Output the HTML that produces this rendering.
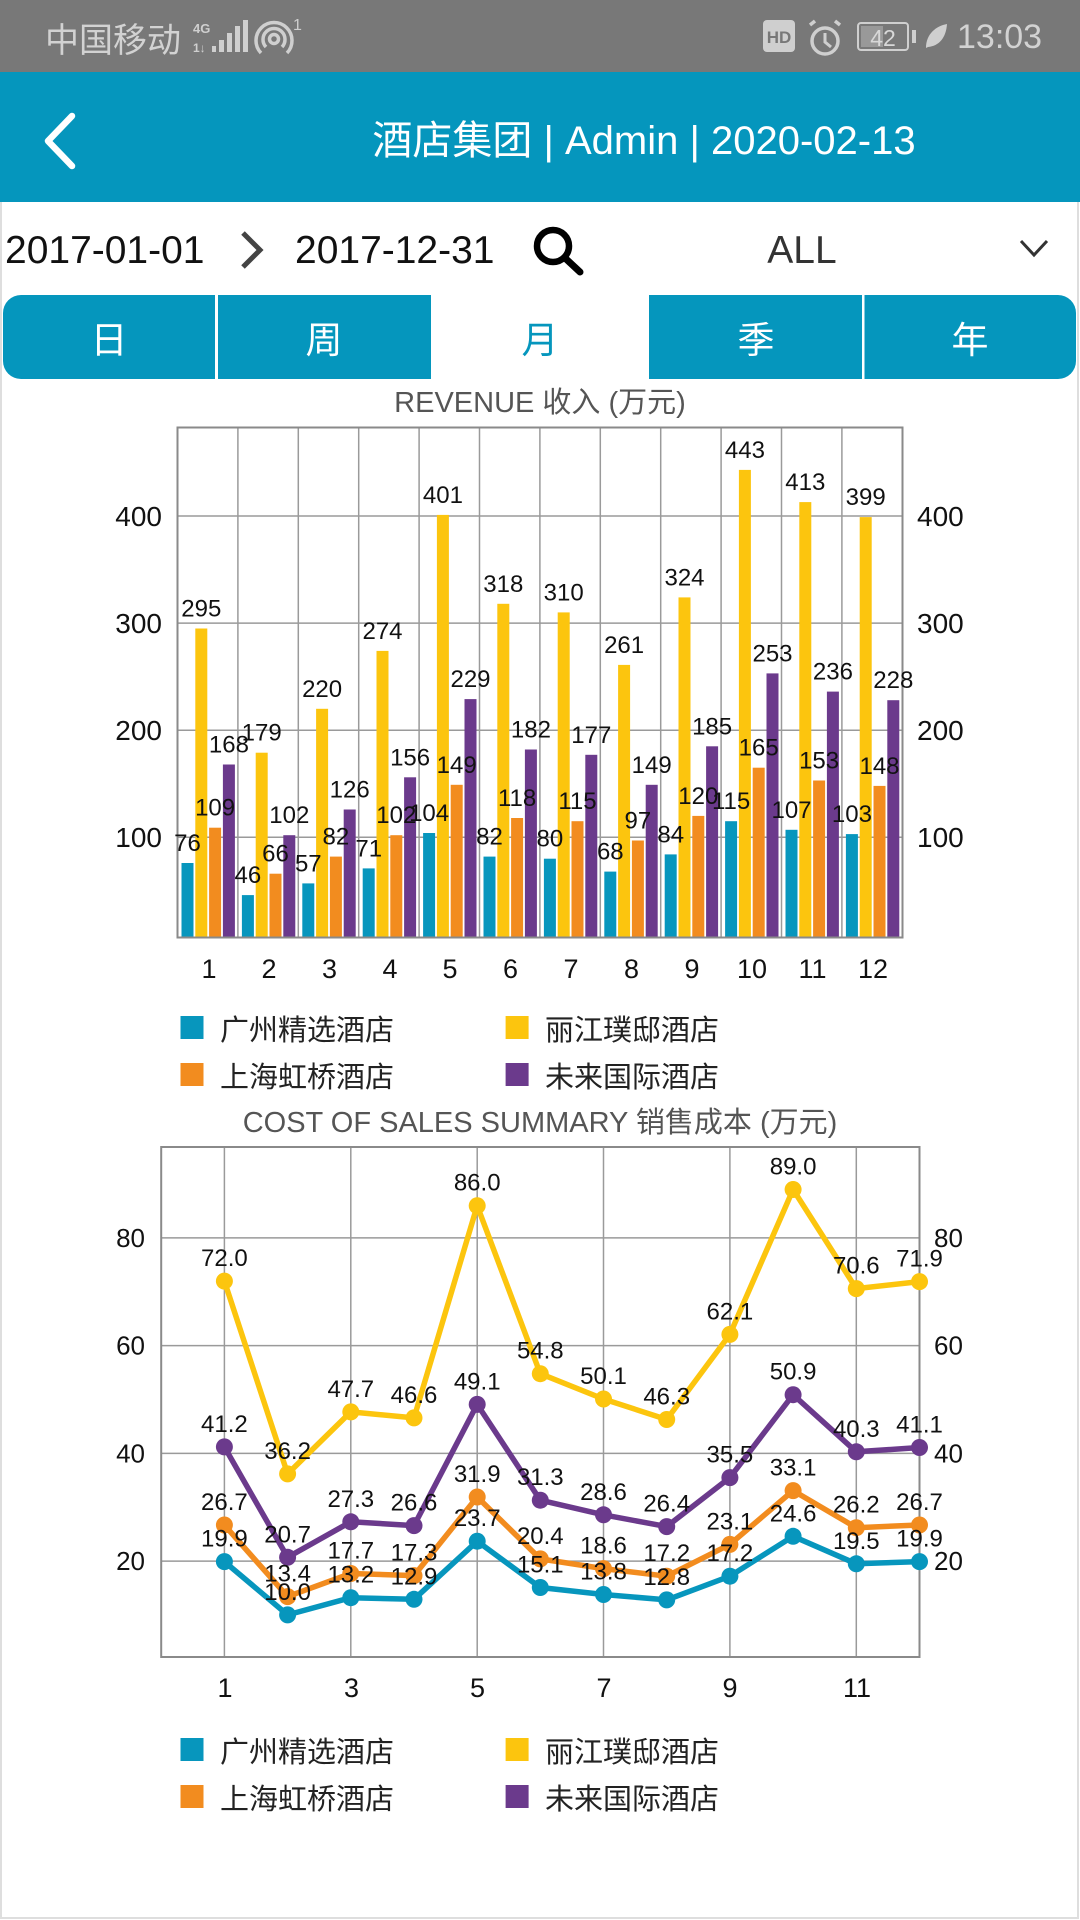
<!DOCTYPE html>
<html><head><meta charset="utf-8"><style>
html,body{margin:0;padding:0;background:#fff;}
body{width:1080px;height:1920px;overflow:hidden;position:relative;}
svg{position:absolute;left:0;top:0;display:block;}
text{font-family:"Liberation Sans","Noto Sans CJK SC",sans-serif;}
</style></head><body>
<svg width="1080" height="1920" viewBox="0 0 1080 1920" xmlns="http://www.w3.org/2000/svg">
<rect x="0" y="0" width="1080" height="1920" fill="#fff"/>
<rect x="1" y="200" width="1077" height="1718" fill="none" stroke="#dedede" stroke-width="2"/>
<!-- status bar -->
<rect x="0" y="0" width="1080" height="72" fill="#787878"/>
<text x="45" y="52" font-size="34" fill="#d2d2d2">中国移动</text>
<text x="193" y="33" font-size="13" font-weight="bold" fill="#cfcfcf">4G</text>
<text x="193" y="52" font-size="12" font-weight="bold" fill="#cfcfcf">1↓</text>
<rect x="212" y="46" width="4" height="6" fill="#cfcfcf"/>
<rect x="219" y="40" width="5" height="12" fill="#cfcfcf"/>
<rect x="227" y="33" width="5" height="19" fill="#cfcfcf"/>
<rect x="235" y="26" width="5" height="26" fill="#cfcfcf"/>
<rect x="243" y="20" width="5" height="32" fill="#cfcfcf"/>
<circle cx="274" cy="39" r="4.5" fill="none" stroke="#cfcfcf" stroke-width="3.5"/>
<path d="M266 47 A11 11 0 1 1 282 47" fill="none" stroke="#cfcfcf" stroke-width="3.5"/>
<path d="M261 53 A18 18 0 1 1 287 53" fill="none" stroke="#cfcfcf" stroke-width="3.5"/>
<text x="293" y="30" font-size="16" fill="#cfcfcf">1</text>
<rect x="763" y="20" width="32" height="32" rx="4" fill="#cfcfcf"/>
<text x="779" y="43" font-size="17" font-weight="bold" fill="#787878" text-anchor="middle">HD</text>
<circle cx="825" cy="41" r="13" fill="none" stroke="#cfcfcf" stroke-width="3.5"/>
<polyline points="825,33 825,42 831,47" fill="none" stroke="#cfcfcf" stroke-width="3"/>
<line x1="810" y1="25" x2="815" y2="21" stroke="#cfcfcf" stroke-width="3.5"/>
<line x1="840" y1="25" x2="835" y2="21" stroke="#cfcfcf" stroke-width="3.5"/>
<rect x="858" y="23" width="50" height="27" rx="3" fill="none" stroke="#cfcfcf" stroke-width="2"/>
<rect x="861" y="26" width="22" height="21" fill="#999"/>
<text x="883" y="46" font-size="23" fill="#d8d8d8" text-anchor="middle">42</text>
<rect x="912" y="30" width="4" height="13" fill="#cfcfcf"/>
<path d="M926 48 C926 34 936 26 947 24 C946 38 939 46 928 47 Z" fill="#cfcfcf"/>
<text x="957" y="48" font-size="34" fill="#d2d2d2">13:03</text>
<!-- header -->
<rect x="0" y="72" width="1080" height="130" fill="#0596bd"/>
<polyline points="72,116 48,141 72,166" fill="none" stroke="#fff" stroke-width="6.5" stroke-linecap="round" stroke-linejoin="round"/>
<text x="644" y="154" font-size="40" fill="#fff" text-anchor="middle">酒店集团 | Admin | 2020-02-13</text>
<!-- date row -->
<text x="5" y="263" font-size="39" fill="#111">2017-01-01</text>
<polyline points="243,233 260,250 243,267" fill="none" stroke="#444" stroke-width="5"/>
<text x="295" y="263" font-size="39" fill="#111">2017-12-31</text>
<circle cx="553" cy="246" r="16" fill="none" stroke="#000" stroke-width="6.5"/>
<line x1="565" y1="258" x2="580" y2="272" stroke="#000" stroke-width="7" stroke-linecap="round"/>
<text x="802" y="263" font-size="39" fill="#333" text-anchor="middle">ALL</text>
<polyline points="1021,241 1034,255 1047,241" fill="none" stroke="#333" stroke-width="3"/>
<!-- tabs -->
<rect x="3" y="295" width="1073" height="84" rx="18" fill="#0596bd"/>
<rect x="215" y="295" width="3" height="84" fill="#fff"/>
<rect x="431" y="295" width="218" height="84" fill="#fff"/>
<rect x="862" y="295" width="2.5" height="84" fill="#fff"/>
<g font-size="37" text-anchor="middle" fill="#fff">
<text x="109" y="353">日</text>
<text x="324" y="353">周</text>
<text x="540" y="353" fill="#0596bd">月</text>
<text x="756" y="353">季</text>
<text x="970" y="353">年</text>
</g>
<!-- REVENUE chart -->
<text x="540" y="412" font-size="29" fill="#555" text-anchor="middle">REVENUE 收入 (万元)</text>
<g stroke="#9a9a9a" stroke-width="1.5">
<line x1="177.5" y1="516" x2="902.5" y2="516"/>
<line x1="177.5" y1="623.1" x2="902.5" y2="623.1"/>
<line x1="177.5" y1="730.2" x2="902.5" y2="730.2"/>
<line x1="177.5" y1="837.3" x2="902.5" y2="837.3"/>
<line x1="237.9" y1="427.5" x2="237.9" y2="937.5"/>
<line x1="298.3" y1="427.5" x2="298.3" y2="937.5"/>
<line x1="358.7" y1="427.5" x2="358.7" y2="937.5"/>
<line x1="419.1" y1="427.5" x2="419.1" y2="937.5"/>
<line x1="479.5" y1="427.5" x2="479.5" y2="937.5"/>
<line x1="539.9" y1="427.5" x2="539.9" y2="937.5"/>
<line x1="600.3" y1="427.5" x2="600.3" y2="937.5"/>
<line x1="660.7" y1="427.5" x2="660.7" y2="937.5"/>
<line x1="721.1" y1="427.5" x2="721.1" y2="937.5"/>
<line x1="781.5" y1="427.5" x2="781.5" y2="937.5"/>
<line x1="841.9" y1="427.5" x2="841.9" y2="937.5"/>
</g>
<g fill="#0796bd">
<rect x="181.5" y="863.0" width="12" height="74.5"/>
<rect x="241.9" y="895.1" width="12" height="42.4"/>
<rect x="302.3" y="883.4" width="12" height="54.1"/>
<rect x="362.7" y="868.4" width="12" height="69.1"/>
<rect x="423.1" y="833.0" width="12" height="104.5"/>
<rect x="483.5" y="856.6" width="12" height="80.9"/>
<rect x="543.9" y="858.7" width="12" height="78.8"/>
<rect x="604.3" y="871.6" width="12" height="65.9"/>
<rect x="664.7" y="854.4" width="12" height="83.1"/>
<rect x="725.1" y="821.2" width="12" height="116.3"/>
<rect x="785.5" y="829.8" width="12" height="107.7"/>
<rect x="845.9" y="834.1" width="12" height="103.4"/>
</g>
<g fill="#fcc50e">
<rect x="195.3" y="628.5" width="12" height="309"/>
<rect x="255.7" y="752.7" width="12" height="184.8"/>
<rect x="316.1" y="708.8" width="12" height="228.7"/>
<rect x="376.5" y="650.9" width="12" height="286.6"/>
<rect x="436.9" y="514.9" width="12" height="422.6"/>
<rect x="497.3" y="603.8" width="12" height="333.7"/>
<rect x="557.7" y="612.4" width="12" height="325.1"/>
<rect x="618.1" y="664.9" width="12" height="272.6"/>
<rect x="678.5" y="597.4" width="12" height="340.1"/>
<rect x="738.9" y="469.9" width="12" height="467.6"/>
<rect x="799.3" y="502.1" width="12" height="435.4"/>
<rect x="859.7" y="517.1" width="12" height="420.4"/>
</g>
<g fill="#f28c1f">
<rect x="209.1" y="827.7" width="12" height="109.8"/>
<rect x="269.5" y="873.7" width="12" height="63.8"/>
<rect x="329.9" y="856.6" width="12" height="80.9"/>
<rect x="390.3" y="835.2" width="12" height="102.3"/>
<rect x="450.7" y="784.8" width="12" height="152.7"/>
<rect x="511.1" y="818.0" width="12" height="119.5"/>
<rect x="571.5" y="821.2" width="12" height="116.3"/>
<rect x="631.9" y="840.5" width="12" height="97"/>
<rect x="692.3" y="815.9" width="12" height="121.6"/>
<rect x="752.7" y="767.7" width="12" height="169.8"/>
<rect x="813.1" y="780.5" width="12" height="157"/>
<rect x="873.5" y="785.9" width="12" height="151.6"/>
</g>
<g fill="#6b3a8c">
<rect x="222.9" y="764.5" width="12" height="173"/>
<rect x="283.3" y="835.2" width="12" height="102.3"/>
<rect x="343.7" y="809.5" width="12" height="128"/>
<rect x="404.1" y="777.3" width="12" height="160.2"/>
<rect x="464.5" y="699.1" width="12" height="238.4"/>
<rect x="524.9" y="749.5" width="12" height="188"/>
<rect x="585.3" y="754.8" width="12" height="182.7"/>
<rect x="645.7" y="784.8" width="12" height="152.7"/>
<rect x="706.1" y="746.3" width="12" height="191.2"/>
<rect x="766.5" y="673.4" width="12" height="264.1"/>
<rect x="826.9" y="691.6" width="12" height="245.9"/>
<rect x="887.3" y="700.2" width="12" height="237.3"/>
</g>
<rect x="177.5" y="427.5" width="725" height="510" fill="none" stroke="#8a8a8a" stroke-width="2"/>
<g font-size="24" fill="#111" text-anchor="middle">
<text x="187.5" y="851.0">76</text><text x="247.9" y="883.1">46</text><text x="308.3" y="871.4">57</text><text x="368.7" y="856.4">71</text><text x="429.1" y="821.0">104</text><text x="489.5" y="844.6">82</text><text x="549.9" y="846.7">80</text><text x="610.3" y="859.6">68</text><text x="670.7" y="842.4">84</text><text x="731.1" y="809.2">115</text><text x="791.5" y="817.8">107</text><text x="851.9" y="822.1">103</text>
<text x="201.3" y="616.5">295</text><text x="261.7" y="740.7">179</text><text x="322.1" y="696.8">220</text><text x="382.5" y="638.9">274</text><text x="442.9" y="502.9">401</text><text x="503.3" y="591.8">318</text><text x="563.7" y="600.4">310</text><text x="624.1" y="652.9">261</text><text x="684.5" y="585.4">324</text><text x="744.9" y="457.9">443</text><text x="805.3" y="490.1">413</text><text x="865.7" y="505.1">399</text>
<text x="215.1" y="815.7">109</text><text x="275.5" y="861.7">66</text><text x="335.9" y="844.6">82</text><text x="396.3" y="823.2">102</text><text x="456.7" y="772.8">149</text><text x="517.1" y="806.0">118</text><text x="577.5" y="809.2">115</text><text x="637.9" y="828.5">97</text><text x="698.3" y="803.9">120</text><text x="758.7" y="755.7">165</text><text x="819.1" y="768.5">153</text><text x="879.5" y="773.9">148</text>
<text x="228.9" y="752.5">168</text><text x="289.3" y="823.2">102</text><text x="349.7" y="797.5">126</text><text x="410.1" y="765.3">156</text><text x="470.5" y="687.1">229</text><text x="530.9" y="737.5">182</text><text x="591.3" y="742.8">177</text><text x="651.7" y="772.8">149</text><text x="712.1" y="734.3">185</text><text x="772.5" y="661.4">253</text><text x="832.9" y="679.6">236</text><text x="893.3" y="688.2">228</text>
</g>
<g font-size="28" fill="#111" text-anchor="end">
<text x="162" y="526">400</text><text x="162" y="633">300</text><text x="162" y="740">200</text><text x="162" y="847">100</text>
</g>
<g font-size="28" fill="#111">
<text x="917" y="526">400</text><text x="917" y="633">300</text><text x="917" y="740">200</text><text x="917" y="847">100</text>
</g>
<g font-size="27" fill="#111" text-anchor="middle">
<text x="209" y="978">1</text><text x="269" y="978">2</text><text x="329.5" y="978">3</text><text x="390" y="978">4</text><text x="450" y="978">5</text><text x="510.5" y="978">6</text><text x="571" y="978">7</text><text x="631.5" y="978">8</text><text x="692" y="978">9</text><text x="752" y="978">10</text><text x="812.5" y="978">11</text><text x="873" y="978">12</text>
</g>
<rect x="180.5" y="1016" width="23" height="23" fill="#0796bd"/>
<rect x="505.6" y="1016" width="23" height="23" fill="#fcc50e"/>
<rect x="180.5" y="1063" width="23" height="23" fill="#f28c1f"/>
<rect x="505.6" y="1063" width="23" height="23" fill="#6b3a8c"/>
<g font-size="29" fill="#222">
<text x="220" y="1040">广州精选酒店</text>
<text x="545" y="1040">丽江璞邸酒店</text>
<text x="220" y="1087">上海虹桥酒店</text>
<text x="545" y="1087">未来国际酒店</text>
</g>
<!-- COST chart -->
<text x="540" y="1132" font-size="29" fill="#555" text-anchor="middle">COST OF SALES SUMMARY 销售成本 (万元)</text>
<g stroke="#9a9a9a" stroke-width="1.5">
<line x1="161.2" y1="1237.9" x2="919.5" y2="1237.9"/>
<line x1="161.2" y1="1345.6" x2="919.5" y2="1345.6"/>
<line x1="161.2" y1="1453.4" x2="919.5" y2="1453.4"/>
<line x1="161.2" y1="1561.1" x2="919.5" y2="1561.1"/>
<line x1="224.4" y1="1147" x2="224.4" y2="1657"/>
<line x1="350.8" y1="1147" x2="350.8" y2="1657"/>
<line x1="477.2" y1="1147" x2="477.2" y2="1657"/>
<line x1="603.5" y1="1147" x2="603.5" y2="1657"/>
<line x1="729.9" y1="1147" x2="729.9" y2="1657"/>
<line x1="856.3" y1="1147" x2="856.3" y2="1657"/>
</g>
<rect x="161.2" y="1147" width="758.3" height="510" fill="none" stroke="#8a8a8a" stroke-width="2"/>
<g fill="none" stroke-width="5.5" stroke-linejoin="round">
<polyline stroke="#0796bd" points="224.4,1561.6 287.6,1614.9 350.8,1597.7 414.0,1599.3 477.2,1541.2 540.3,1587.5 603.5,1594.5 666.7,1599.9 729.9,1576.2 793.1,1536.3 856.3,1563.8 919.5,1561.6"/>
<polyline stroke="#f28c1f" points="224.4,1525.0 287.6,1596.6 350.8,1573.5 414.0,1575.6 477.2,1497.0 540.3,1558.9 603.5,1568.6 666.7,1576.2 729.9,1544.4 793.1,1490.6 856.3,1527.7 919.5,1525.0"/>
<polyline stroke="#fcc50e" points="224.4,1281.1 287.6,1473.9 350.8,1411.9 414.0,1417.9 477.2,1205.7 540.3,1373.7 603.5,1399.0 666.7,1419.5 729.9,1334.4 793.1,1189.5 856.3,1288.6 919.5,1281.6"/>
<polyline stroke="#6b3a8c" points="224.4,1446.9 287.6,1557.3 350.8,1521.8 414.0,1525.6 477.2,1404.4 540.3,1500.2 603.5,1514.8 666.7,1526.6 729.9,1477.6 793.1,1394.7 856.3,1451.8 919.5,1447.5"/>
</g>
<g fill="#0796bd">
<circle cx="224.4" cy="1561.6" r="8.5"/><circle cx="287.6" cy="1614.9" r="8.5"/><circle cx="350.8" cy="1597.7" r="8.5"/><circle cx="414.0" cy="1599.3" r="8.5"/><circle cx="477.2" cy="1541.2" r="8.5"/><circle cx="540.3" cy="1587.5" r="8.5"/><circle cx="603.5" cy="1594.5" r="8.5"/><circle cx="666.7" cy="1599.9" r="8.5"/><circle cx="729.9" cy="1576.2" r="8.5"/><circle cx="793.1" cy="1536.3" r="8.5"/><circle cx="856.3" cy="1563.8" r="8.5"/><circle cx="919.5" cy="1561.6" r="8.5"/>
</g>
<g fill="#f28c1f">
<circle cx="224.4" cy="1525.0" r="8.5"/><circle cx="287.6" cy="1596.6" r="8.5"/><circle cx="350.8" cy="1573.5" r="8.5"/><circle cx="414.0" cy="1575.6" r="8.5"/><circle cx="477.2" cy="1497.0" r="8.5"/><circle cx="540.3" cy="1558.9" r="8.5"/><circle cx="603.5" cy="1568.6" r="8.5"/><circle cx="666.7" cy="1576.2" r="8.5"/><circle cx="729.9" cy="1544.4" r="8.5"/><circle cx="793.1" cy="1490.6" r="8.5"/><circle cx="856.3" cy="1527.7" r="8.5"/><circle cx="919.5" cy="1525.0" r="8.5"/>
</g>
<g fill="#fcc50e">
<circle cx="224.4" cy="1281.1" r="8.5"/><circle cx="287.6" cy="1473.9" r="8.5"/><circle cx="350.8" cy="1411.9" r="8.5"/><circle cx="414.0" cy="1417.9" r="8.5"/><circle cx="477.2" cy="1205.7" r="8.5"/><circle cx="540.3" cy="1373.7" r="8.5"/><circle cx="603.5" cy="1399.0" r="8.5"/><circle cx="666.7" cy="1419.5" r="8.5"/><circle cx="729.9" cy="1334.4" r="8.5"/><circle cx="793.1" cy="1189.5" r="8.5"/><circle cx="856.3" cy="1288.6" r="8.5"/><circle cx="919.5" cy="1281.6" r="8.5"/>
</g>
<g fill="#6b3a8c">
<circle cx="224.4" cy="1446.9" r="8.5"/><circle cx="287.6" cy="1557.3" r="8.5"/><circle cx="350.8" cy="1521.8" r="8.5"/><circle cx="414.0" cy="1525.6" r="8.5"/><circle cx="477.2" cy="1404.4" r="8.5"/><circle cx="540.3" cy="1500.2" r="8.5"/><circle cx="603.5" cy="1514.8" r="8.5"/><circle cx="666.7" cy="1526.6" r="8.5"/><circle cx="729.9" cy="1477.6" r="8.5"/><circle cx="793.1" cy="1394.7" r="8.5"/><circle cx="856.3" cy="1451.8" r="8.5"/><circle cx="919.5" cy="1447.5" r="8.5"/>
</g>
<g font-size="24" fill="#111" text-anchor="middle">
<text x="224.4" y="1266.1">72.0</text><text x="287.6" y="1458.9">36.2</text><text x="350.8" y="1396.9">47.7</text><text x="414.0" y="1402.9">46.6</text><text x="477.2" y="1190.7">86.0</text><text x="540.3" y="1358.7">54.8</text><text x="603.5" y="1384.0">50.1</text><text x="666.7" y="1404.5">46.3</text><text x="729.9" y="1319.4">62.1</text><text x="793.1" y="1174.5">89.0</text><text x="856.3" y="1273.6">70.6</text><text x="919.5" y="1266.6">71.9</text>
<text x="224.4" y="1431.9">41.2</text><text x="287.6" y="1542.3">20.7</text><text x="350.8" y="1506.8">27.3</text><text x="414.0" y="1510.6">26.6</text><text x="477.2" y="1389.4">49.1</text><text x="540.3" y="1485.2">31.3</text><text x="603.5" y="1499.8">28.6</text><text x="666.7" y="1511.6">26.4</text><text x="729.9" y="1462.6">35.5</text><text x="793.1" y="1379.7">50.9</text><text x="856.3" y="1436.8">40.3</text><text x="919.5" y="1432.5">41.1</text>
<text x="224.4" y="1510.0">26.7</text><text x="287.6" y="1581.6">13.4</text><text x="350.8" y="1558.5">17.7</text><text x="414.0" y="1560.6">17.3</text><text x="477.2" y="1482.0">31.9</text><text x="540.3" y="1543.9">20.4</text><text x="603.5" y="1553.6">18.6</text><text x="666.7" y="1561.2">17.2</text><text x="729.9" y="1529.4">23.1</text><text x="793.1" y="1475.6">33.1</text><text x="856.3" y="1512.7">26.2</text><text x="919.5" y="1510.0">26.7</text>
<text x="224.4" y="1546.6">19.9</text><text x="287.6" y="1599.9">10.0</text><text x="350.8" y="1582.7">13.2</text><text x="414.0" y="1584.3">12.9</text><text x="477.2" y="1526.2">23.7</text><text x="540.3" y="1572.5">15.1</text><text x="603.5" y="1579.5">13.8</text><text x="666.7" y="1584.9">12.8</text><text x="729.9" y="1561.2">17.2</text><text x="793.1" y="1521.3">24.6</text><text x="856.3" y="1548.8">19.5</text><text x="919.5" y="1546.6">19.9</text>
</g>
<g font-size="26" fill="#111" text-anchor="end">
<text x="145" y="1247">80</text><text x="145" y="1354.6">60</text><text x="145" y="1462.4">40</text><text x="145" y="1570.1">20</text>
</g>
<g font-size="26" fill="#111">
<text x="934" y="1247">80</text><text x="934" y="1354.6">60</text><text x="934" y="1462.4">40</text><text x="934" y="1570.1">20</text>
</g>
<g font-size="27" fill="#111" text-anchor="middle">
<text x="225" y="1697">1</text><text x="351.5" y="1697">3</text><text x="477.5" y="1697">5</text><text x="604" y="1697">7</text><text x="730" y="1697">9</text><text x="857" y="1697">11</text>
</g>
<rect x="180.5" y="1738" width="23" height="23" fill="#0796bd"/>
<rect x="505.6" y="1738" width="23" height="23" fill="#fcc50e"/>
<rect x="180.5" y="1785" width="23" height="23" fill="#f28c1f"/>
<rect x="505.6" y="1785" width="23" height="23" fill="#6b3a8c"/>
<g font-size="29" fill="#222">
<text x="220" y="1762">广州精选酒店</text>
<text x="545" y="1762">丽江璞邸酒店</text>
<text x="220" y="1809">上海虹桥酒店</text>
<text x="545" y="1809">未来国际酒店</text>
</g>
</svg>
</body></html>
